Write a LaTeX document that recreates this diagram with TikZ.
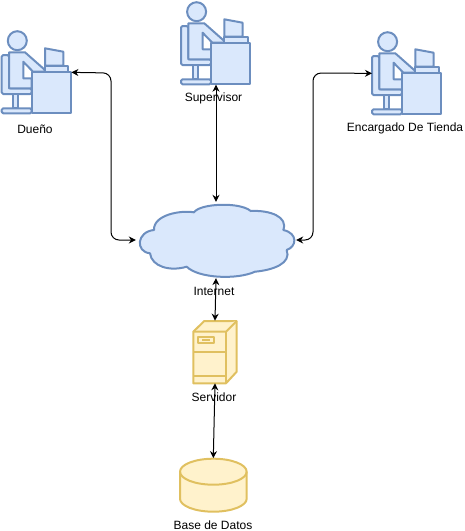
\documentclass[tikz,border=0pt]{standalone}
\usepackage{fontspec}
\setmainfont{Liberation Sans}
\usetikzlibrary{arrows.meta}
\definecolor{cloudfill}{HTML}{DAE8FC}
\definecolor{cloudline}{HTML}{6C8EBF}
\definecolor{dbfill}{HTML}{FFF2CC}
\definecolor{dbline}{HTML}{E0C060}

\begin{document}
\begin{tikzpicture}[x=1pt, y=-1pt,
    iconbox/.style={rectangle, minimum width=69.3pt, minimum height=82.3pt, inner sep=0pt, anchor=north west},
    hidebox/.style={rectangle, inner sep=0pt},
    lbl/.style={font=\fontsize{12}{14}\selectfont, inner sep=0pt},
    blueline/.style={draw=cloudline, fill=cloudfill, line width=2pt, line join=round},
    yellowline/.style={draw=dbline, fill=dbfill, line width=2pt, line join=round},
    arr/.style={{Stealth[length=7pt,width=7pt]}-{Stealth[length=7pt,width=7pt]}, line width=1pt, black, rounded corners=8pt},
    usericon/.pic={
        \draw[blueline, rounded corners=1.5pt] (7.3,24) -- (0,24) -- (0,63) -- (30,63) -- (30,57.3) -- (7.3,57.3) -- cycle;
        \draw[blueline] (11.6,63) rectangle (16.6,77.3);
        \draw[blueline, rounded corners=1.5pt] (0,77.3) rectangle (30,82.3);
        \draw[blueline] (15.6,9.7) circle (9.5);
        \draw[blueline] (7.3,21.3) -- (23.3,21.3) -- (43.3,39) -- (43.3,40.7) -- (31.3,40.7) -- (21.6,30.7)
            -- (21.6,47.3) -- (30,47.3) -- (30,57.3) -- (7.3,57.3) -- cycle;
        \draw[blueline] (43.3,17.3) -- (61.6,20.7) -- (61.6,34.7) -- (43.3,34.7) -- cycle;
        \draw[blueline] (43.3,34.7) rectangle (66.6,40.7);
        \draw[blueline] (30,40.7) rectangle (69.3,82.3);
    }
]
    \useasboundingbox (0,0) rectangle (464,531);

    % Users
    \node[iconbox] (duenio) at (1.7,31) {};
    \node[iconbox] (supervisor) at (181,2) {};
    \node[iconbox] (encargado) at (372,32) {};
    \pic at (duenio.north west) {usericon};
    \pic at (supervisor.north west) {usericon};
    \pic at (encargado.north west) {usericon};

    \node[lbl] (lduenio) at (35,129.5) {Dueño};
    \node[lbl] (lsupervisor) at (213.5,98) {Supervisor};
    \node[lbl] (lencargado) at (405,128.5) {Encargado De Tienda};

    % Internet
    \node[hidebox, minimum width=160pt, minimum height=76pt] (internet) at (216,240) {};
    \draw[blueline] (154,230) .. controls (153.3,215) and (180,210) .. (194,212.3)
        .. controls (200,203.3) and (240,201.7) .. (250.7,211)
        .. controls (270,210) and (288.3,216.7) .. (283.3,230)
        .. controls (298.3,233.3) and (296.7,246.7) .. (286.7,250)
        .. controls (291.7,263.3) and (273.3,270) .. (255,271.7)
        .. controls (236.7,280) and (198.3,278.3) .. (186.7,266.7)
        .. controls (170,271.7) and (151.7,266.7) .. (150,253.3)
        .. controls (135,251.7) and (136.7,231.7) .. (154,230) -- cycle;
    \node[lbl] (linternet) at (214,291.5) {Internet};

    % Servidor
    \node[hidebox, minimum width=43.4pt, minimum height=62.3pt] (servidor) at (215,352) {};
    \draw[yellowline] (193.3,331.7) -- (204.3,321) -- (236.7,321) -- (236.7,371.7) -- (226,383.3) -- (193.3,383.3) -- cycle;
    \draw[yellowline] (193.3,331.7) -- (226,331.7) -- (236.7,321);
    \draw[yellowline] (226,331.7) -- (226,383.3);
    \draw[yellowline] (193.3,351.7) -- (226,351.7);
    \draw[yellowline] (193.3,375.7) -- (226,375.7);
    \draw[yellowline] (197.7,336.7) rectangle (214.3,343.3);
    \draw[yellowline] (202.3,340) -- (210,340);
    \node[lbl] (lservidor) at (214,397.5) {Servidor};

    % Base de datos
    \node[hidebox, minimum width=66.7pt, minimum height=53.4pt] (basedatos) at (213.3,485) {};
    \draw[yellowline] (180,471.7) -- (180,498.7) arc[start angle=180, end angle=360, x radius=33.35, y radius=-13]
        -- (246.7,471.7) arc[start angle=0, end angle=180, x radius=33.35, y radius=-13] -- cycle;
    \draw[yellowline, fill=none] (180,471.7) arc[start angle=180, end angle=360, x radius=33.35, y radius=-13];
    \node[lbl] (lbasedatos) at (213,525.5) {Base de Datos};

    % Connections
    \coordinate (cleft) at (111,73);
    \coordinate (cright) at (313,73);
    \draw[arr] (duenio.east) -- (cleft) -- (cleft |- internet.west) -- (internet.west);
    \draw[arr] (encargado.west) -- (cright) -- (cright |- internet.east) -- (internet.east);
    \draw[arr] (supervisor.south -| internet.north) -- (internet.north);
    \draw[arr] (internet.south) -- (servidor.north);
    \draw[arr] (servidor.south) -- (basedatos.north);
\end{tikzpicture}
\end{document}
